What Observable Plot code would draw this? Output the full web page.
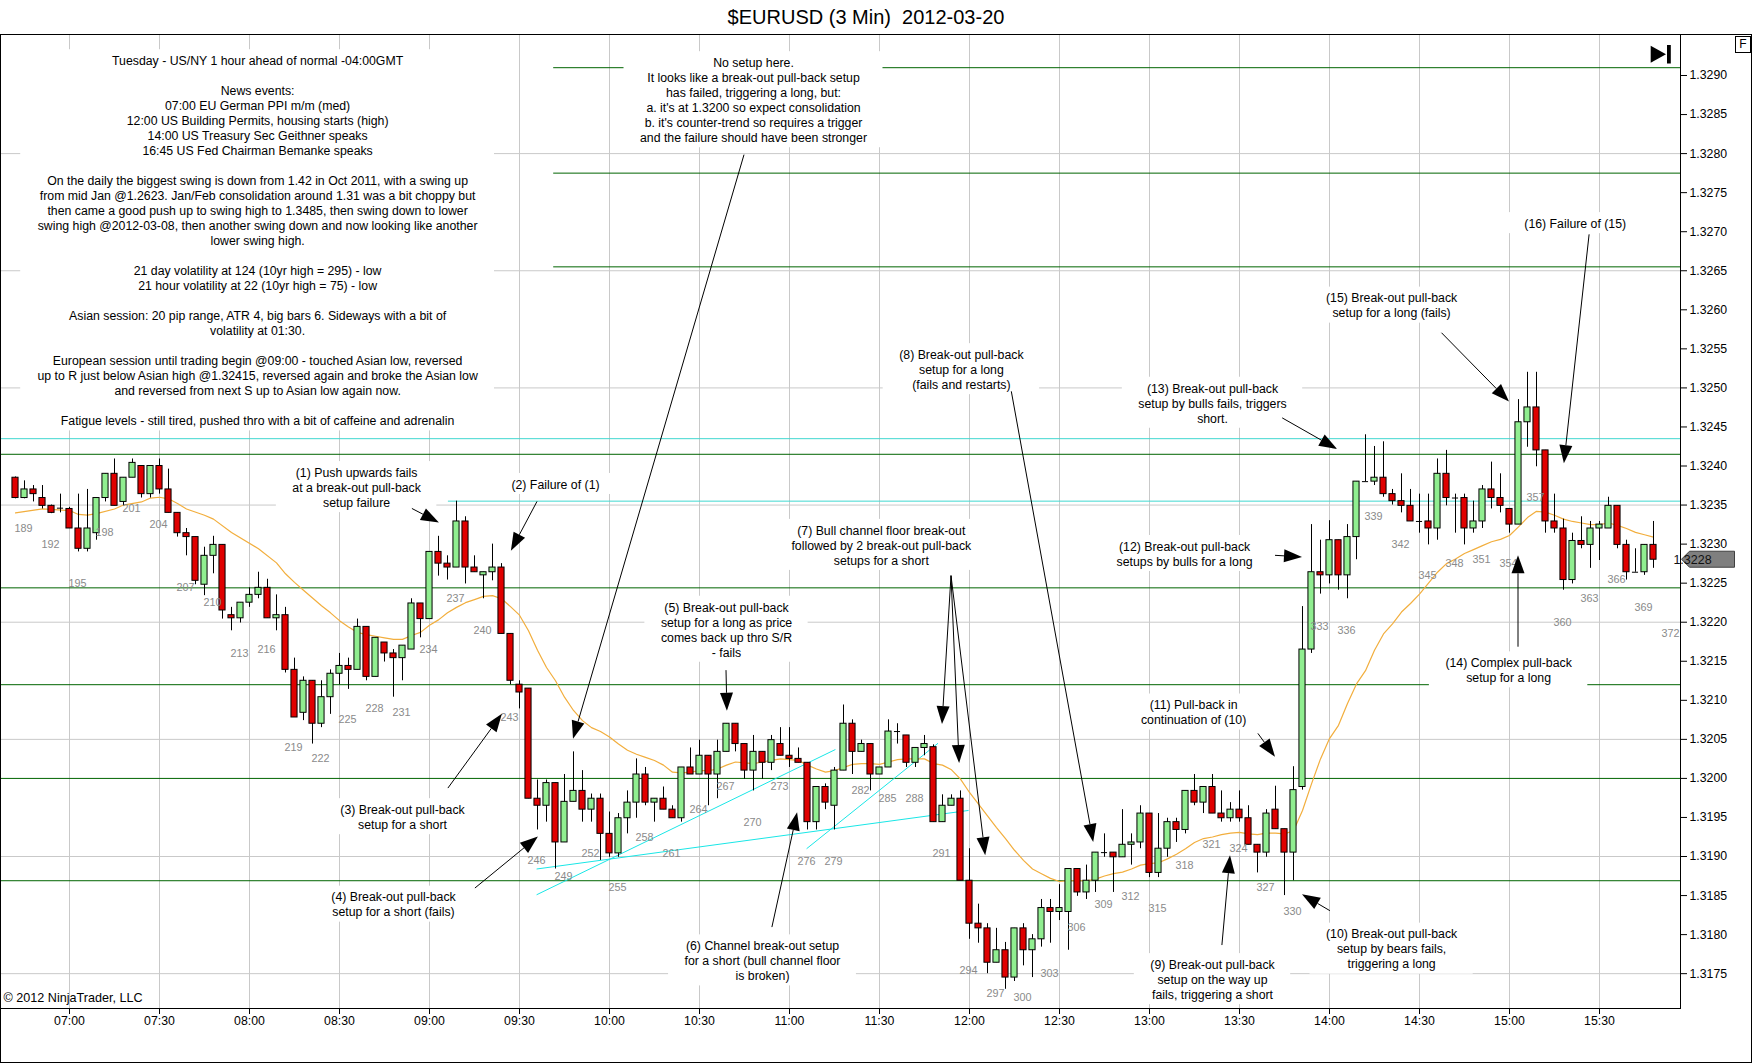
<!DOCTYPE html>
<html>
<head>
<meta charset="utf-8">
<script src="https://cdn.jsdelivr.net/npm/d3@7"></script>
<script src="https://cdn.jsdelivr.net/npm/@observablehq/plot@0.6"></script>
<style>
  body { margin: 0; background: #fff; font-family: "Liberation Sans", Arial, sans-serif; }
  #wrap { position: relative; width: 1752px; height: 1064px; overflow: hidden; background: #fff; }
  #title { position: absolute; left: 0; top: 0; width: 1732px; height: 34px; line-height: 34px; text-align: center; font-size: 20px; white-space: pre; color: #000; }
  #chart { position: absolute; left: 0; top: 34px; }
  #border { position: absolute; left: 0; top: 34px; width: 1750px; height: 1027px; border: 1px solid #000; pointer-events: none; }
  #endbtn { position: absolute; left: 1650px; top: 45px; }
  #fbox { position: absolute; left: 1735px; top: 36px; width: 14px; height: 15px; border: 1px solid #000; font-size: 12px; line-height: 15px; text-align: center; background: #fff; }
</style>
</head>
<body>
<div id="wrap">
  <div id="title">$EURUSD (3 Min)  2012-03-20</div>
  <div id="chart"></div>
  <div id="border"></div>
  <svg id="endbtn" width="22" height="19"><polygon points="0.7,0.7 16,9.2 0.7,17.8" fill="#000"/><rect x="17" y="0" width="3.8" height="18.5" fill="#000"/></svg>
  <div id="fbox">F</div>
</div>
<script>
// ---------------- data ----------------
const firstBar = 189;
const open = [
1.32385,1.32359,1.32370,1.32359,1.32349,1.32346,1.32345,1.32320,1.32294,1.32314,
1.32359,1.32390,1.32354,1.32385,1.32400,1.32364,1.32400,1.32370,1.32340,1.32314,
1.32309,1.32248,1.32285,1.32299,1.32209,1.32205,1.32225,1.32235,1.32244,1.32205,
1.32209,1.32139,1.32084,1.32125,1.32070,1.32104,1.32134,1.32144,1.32139,1.32194,
1.32130,1.32174,1.32160,1.32154,1.32165,1.32224,1.32204,1.32290,1.32275,1.32270,
1.32329,1.32270,1.32260,1.32264,1.32270,1.32185,1.32120,1.32115,1.31974,1.31965,
1.31994,1.31918,1.31970,1.31984,1.31960,1.31974,1.31929,1.31904,1.31949,1.31969,
1.32005,1.31969,1.31974,1.31960,1.31949,1.32014,1.32005,1.32029,1.32005,1.32034,
1.32070,1.32044,1.32010,1.32034,1.32020,1.32044,1.32029,1.32025,1.32020,1.31944,
1.31989,1.31965,1.32010,1.32070,1.32034,1.32044,1.32005,1.32014,1.32060,1.32055,
1.32020,1.32039,1.32040,1.31944,1.31965,1.31974,1.31869,1.31814,1.31808,1.31764,
1.31780,1.31745,1.31808,1.31780,1.31794,1.31834,1.31829,1.31829,1.31884,1.31854,
1.31869,1.31905,1.31905,1.31899,1.31915,1.31918,1.31955,1.31879,1.31910,1.31944,
1.31934,1.31984,1.31969,1.31989,1.31955,1.31949,1.31960,1.31949,1.31915,1.31905,
1.31960,1.31935,1.31905,1.31989,1.32165,1.32264,1.32260,1.32305,1.32260,1.32309,
1.32380,1.32380,1.32385,1.32364,1.32355,1.32349,1.32329,1.32329,1.32320,1.32390,
1.32359,1.32359,1.32320,1.32329,1.32370,1.32359,1.32345,1.32325,1.32456,1.32475,
1.32420,1.32329,1.32320,1.32254,1.32304,1.32299,1.32320,1.32320,1.32349,1.32299,
1.32264,1.32264,1.32299
];
const high = [
1.32386,1.32381,1.32375,1.32375,1.32350,1.32364,1.32347,1.32364,1.32370,1.32359,
1.32390,1.32409,1.32385,1.32409,1.32400,1.32400,1.32409,1.32396,1.32340,1.32320,
1.32309,1.32296,1.32310,1.32299,1.32219,1.32225,1.32244,1.32264,1.32255,1.32235,
1.32219,1.32154,1.32130,1.32125,1.32125,1.32139,1.32160,1.32154,1.32204,1.32194,
1.32180,1.32174,1.32165,1.32170,1.32230,1.32224,1.32290,1.32310,1.32285,1.32355,
1.32335,1.32285,1.32264,1.32300,1.32275,1.32185,1.32125,1.32115,1.31998,1.31998,
1.31994,1.32005,1.32034,1.32010,1.31980,1.31980,1.31957,1.31955,1.31984,1.32025,
1.32014,1.31974,1.31989,1.31965,1.32014,1.32039,1.32049,1.32029,1.32049,1.32070,
1.32070,1.32044,1.32055,1.32034,1.32055,1.32065,1.32065,1.32039,1.32020,1.31989,
1.31993,1.32014,1.32094,1.32075,1.32049,1.32044,1.32014,1.32075,1.32070,1.32055,
1.32039,1.32055,1.32043,1.31979,1.31979,1.31984,1.31910,1.31839,1.31814,1.31808,
1.31790,1.31808,1.31814,1.31800,1.31845,1.31845,1.31864,1.31884,1.31884,1.31889,
1.31905,1.31929,1.31905,1.31960,1.31929,1.31965,1.31955,1.31955,1.31949,1.31949,
1.31984,1.32005,1.31989,1.32005,1.31984,1.31969,1.31984,1.31965,1.31915,1.31960,
1.31990,1.31935,1.32015,1.32220,1.32325,1.32305,1.32330,1.32305,1.32325,1.32380,
1.32440,1.32425,1.32431,1.32370,1.32390,1.32370,1.32364,1.32364,1.32409,1.32420,
1.32364,1.32364,1.32355,1.32375,1.32405,1.32390,1.32345,1.32485,1.32520,1.32520,
1.32420,1.32364,1.32332,1.32314,1.32335,1.32329,1.32329,1.32360,1.32349,1.32305,
1.32294,1.32299,1.32329
];
const low = [
1.32358,1.32358,1.32354,1.32345,1.32339,1.32340,1.32320,1.32290,1.32290,1.32305,
1.32354,1.32349,1.32349,1.32385,1.32359,1.32359,1.32364,1.32340,1.32309,1.32285,
1.32248,1.32234,1.32262,1.32204,1.32189,1.32199,1.32219,1.32230,1.32205,1.32189,
1.32135,1.32078,1.32074,1.32044,1.32065,1.32082,1.32120,1.32114,1.32139,1.32125,
1.32130,1.32149,1.32104,1.32125,1.32165,1.32180,1.32204,1.32259,1.32254,1.32270,
1.32249,1.32264,1.32230,1.32253,1.32185,1.32120,1.32089,1.31974,1.31934,1.31944,
1.31884,1.31918,1.31970,1.31944,1.31944,1.31895,1.31899,1.31899,1.31929,1.31949,
1.31965,1.31944,1.31960,1.31949,1.31944,1.32005,1.32005,1.31965,1.31974,1.32034,
1.32034,1.31999,1.31984,1.31999,1.32010,1.32029,1.32014,1.32020,1.31934,1.31934,
1.31960,1.31934,1.32010,1.32005,1.32034,1.31984,1.32005,1.32014,1.32044,1.32014,
1.32014,1.32029,1.31944,1.31944,1.31965,1.31869,1.31794,1.31789,1.31750,1.31764,
1.31730,1.31740,1.31760,1.31745,1.31784,1.31789,1.31818,1.31780,1.31849,1.31845,
1.31854,1.31899,1.31854,1.31899,1.31889,1.31910,1.31873,1.31873,1.31899,1.31918,
1.31929,1.31965,1.31955,1.31955,1.31944,1.31944,1.31944,1.31915,1.31879,1.31899,
1.31935,1.31850,1.31869,1.31985,1.32160,1.32236,1.32249,1.32241,1.32230,1.32280,
1.32380,1.32375,1.32360,1.32350,1.32340,1.32329,1.32314,1.32299,1.32305,1.32349,
1.32314,1.32299,1.32314,1.32320,1.32345,1.32340,1.32314,1.32325,1.32424,1.32399,
1.32314,1.32314,1.32241,1.32249,1.32294,1.32269,1.32279,1.32320,1.32294,1.32254,
1.32264,1.32260,1.32269
];
const close = [
1.32359,1.32370,1.32364,1.32349,1.32340,1.32346,1.32320,1.32294,1.32320,1.32359,
1.32390,1.32349,1.32385,1.32404,1.32364,1.32400,1.32370,1.32340,1.32314,1.32309,
1.32253,1.32285,1.32299,1.32215,1.32205,1.32225,1.32235,1.32244,1.32205,1.32209,
1.32139,1.32078,1.32125,1.32070,1.32104,1.32134,1.32144,1.32139,1.32194,1.32130,
1.32180,1.32160,1.32154,1.32170,1.32224,1.32204,1.32290,1.32275,1.32270,1.32329,
1.32270,1.32264,1.32264,1.32270,1.32185,1.32125,1.32110,1.31974,1.31965,1.31994,
1.31918,1.31970,1.31984,1.31960,1.31974,1.31929,1.31904,1.31949,1.31969,1.32005,
1.31969,1.31974,1.31960,1.31949,1.32014,1.32005,1.32029,1.32005,1.32034,1.32070,
1.32044,1.32010,1.32034,1.32020,1.32049,1.32029,1.32025,1.32020,1.31944,1.31989,
1.31969,1.32010,1.32070,1.32034,1.32044,1.32005,1.32014,1.32060,1.32060,1.32020,
1.32039,1.32044,1.31944,1.31965,1.31974,1.31869,1.31814,1.31808,1.31764,1.31780,
1.31745,1.31808,1.31780,1.31794,1.31834,1.31829,1.31834,1.31884,1.31854,1.31869,
1.31905,1.31905,1.31899,1.31915,1.31918,1.31955,1.31879,1.31910,1.31944,1.31934,
1.31984,1.31969,1.31989,1.31955,1.31949,1.31960,1.31949,1.31915,1.31905,1.31955,
1.31935,1.31905,1.31985,1.32165,1.32264,1.32260,1.32305,1.32260,1.32309,1.32380,
1.32380,1.32385,1.32364,1.32355,1.32349,1.32329,1.32329,1.32320,1.32390,1.32359,
1.32359,1.32320,1.32329,1.32370,1.32359,1.32349,1.32325,1.32456,1.32475,1.32420,
1.32329,1.32320,1.32254,1.32304,1.32299,1.32320,1.32325,1.32349,1.32299,1.32264,
1.32264,1.32299,1.32280
];

// orange moving-average line at these bars
const emaBars = [189,192,195,196,197,198,200,201,203,204,205,206,207,208,210,211,213,216,218,
219,220,221,222,223,224,225,226,227,228,229,230,231,232,233,234,235,236,237,238,239,240,241,242,243,244,245,246,247,248,249,250,251,252,253,254,255,256,257,258,259,260,261,262,263,264,265,266,267,268,269,270,271,272,273,274,275,276,277,278,279,280,281,282,283,284,285,286,287,288,289,290,291,292,293,294,295,296,297,298,299,300,301,302,303,304,305,306,307,308,309,310,311,312,313,314,315,316,317,318,319,320,321,322,323,324,325,326,327,328,329,330,331,332,333,334,335,336,337,338,339,340,341,342,343,344,345,346,347,348,349,350,351,352,353,354,355,356,357,358,359,360,361,362,363,364,365,366,367,368,369,370,371];
const emaValues = [1.32340,1.32345,1.32343,1.32338,1.32337,1.32339,1.32345,1.32350,1.32354,1.32359,1.32360,1.32358,1.32352,1.32345,1.32337,1.32332,1.32315,1.32294,1.32276,
1.32262,1.32251,1.32241,1.32231,1.32221,1.32212,1.32202,1.32194,1.32187,1.32184,1.32182,1.32180,1.32178,1.32178,1.32183,1.32187,1.32196,1.32203,1.32212,1.32219,1.32225,1.32229,1.32233,1.32234,1.32230,1.32220,1.32209,1.32189,1.32164,1.32142,1.32125,1.32104,1.32087,1.32074,1.32065,1.32060,1.32053,1.32044,1.32036,1.32031,1.32027,1.32023,1.32017,1.32008,1.32007,1.32008,1.32010,1.32010,1.32012,1.32017,1.32021,1.32020,1.32019,1.32021,1.32023,1.32025,1.32024,1.32023,1.32017,1.32012,1.32008,1.32010,1.32014,1.32018,1.32019,1.32019,1.32018,1.32021,1.32024,1.32025,1.32025,1.32025,1.32019,1.32017,1.32011,1.31999,1.31982,1.31967,1.31952,1.31937,1.31923,1.31908,1.31895,1.31884,1.31878,1.31872,1.31868,1.31869,1.31869,1.31869,1.31871,1.31875,1.31878,1.31880,1.31884,1.31889,1.31891,1.31892,1.31897,1.31903,1.31910,1.31918,1.31923,1.31925,1.31928,1.31930,1.31931,1.31929,1.31928,1.31930,1.31930,1.31929,1.31933,1.31959,1.31993,1.32025,1.32051,1.32068,1.32096,1.32121,1.32138,1.32164,1.32185,1.32198,1.32213,1.32224,1.32236,1.32250,1.32264,1.32275,1.32281,1.32288,1.32293,1.32298,1.32303,1.32306,1.32311,1.32322,1.32334,1.32342,1.32341,1.32337,1.32332,1.32329,1.32327,1.32325,1.32325,1.32327,1.32324,1.32320,1.32315,1.32312,1.32309];

// bar-number labels: [bar, price where the label sits]
const barLabels = [[189,1.32320],[192,1.32299],[195,1.32249],[198,1.32315],[201,1.32345],[204,1.32325],[207,1.32244],[210,1.32225],[213,1.32160],[216,1.32165],
[219,1.32039],[222,1.32025],[225,1.32075],[228,1.32089],[231,1.32084],[234,1.32165],[237,1.32230],[240,1.32189],[243,1.32078],[246,1.31895],[249,1.31874],[252,1.31904],
[255,1.31860],[258,1.31924],[261,1.31904],[264,1.31960],[267,1.31989],[270,1.31944],[273,1.31989],[276,1.31894],[279,1.31894],[282,1.31985],[285,1.31974],[288,1.31974],
[291,1.31904],[294,1.31754],[297,1.31724],[300,1.31719],[303,1.31750],[306,1.31809],[309,1.31839],[312,1.31849],[315,1.31834],[318,1.31889],[321,1.31915],[324,1.31910],
[327,1.31860],[330,1.31830],[333,1.32195],[336,1.32189],[339,1.32335],[342,1.32300],[345,1.32260],[348,1.32275],[351,1.32280],[354,1.32275],[357,1.32359],
[360,1.32199],[363,1.32230],[366,1.32255],[369,1.32219],[372,1.32185]];

// time axis
const timeTicks = [195,205,215,225,235,245,255,265,275,285,295,305,315,325,335,345,355,365];
const timeLabels = ["07:00","07:30","08:00","08:30","09:00","09:30","10:00","10:30","11:00","11:30","12:00","12:30","13:00","13:30","14:00","14:30","15:00","15:30"];
// price axis
const priceTicks = [1.3175,1.3180,1.3185,1.3190,1.3195,1.3200,1.3205,1.3210,1.3215,1.3220,1.3225,1.3230,1.3235,1.3240,1.3245,1.3250,1.3255,1.3260,1.3265,1.3270,1.3275,1.3280,1.3285,1.3290];
const gridPrices = [1.3175,1.3190,1.3205,1.3220,1.3235,1.3250,1.3265,1.3280];

// drawn S/R levels
const greenLevels = [1.32415,1.32244,1.32120,1.32000,1.31869];
const upperGreenLevels = [1.32910,1.32775,1.32655];
const upperGreenStart = 248.8;
const cyanFull = [1.32435];
const cyanPartial = [1.32355];
const cyanPartialStart = 237.1;
// channel lines [bar1, price1, bar2, price2]
const channels = [[246.9,1.31851,280.1,1.32037],[246.9,1.31884,294.9,1.31959],[276.9,1.31910,291.5,1.32045]];

// annotations
const notes = [
  {bar:215.9, price:1.32689, text:"Tuesday - US/NY 1 hour ahead of normal -04:00GMT\n\nNews events:\n07:00 EU German PPI m/m (med)\n12:00 US Building Permits, housing starts (high)\n14:00 US Treasury Sec Geithner speaks\n16:45 US Fed Chairman Bemanke speaks\n\nOn the daily the biggest swing is down from 1.42 in Oct 2011, with a swing up\nfrom mid Jan @1.2623. Jan/Feb consolidation around 1.31 was a bit choppy but\nthen came a good push up to swing high to 1.3485, then swing down to lower\nswing high @2012-03-08, then another swing down and now looking like another\nlower swing high.\n\n21 day volatility at 124 (10yr high = 295) - low\n21 hour volatility at 22 (10yr high = 75) - low\n\nAsian session: 20 pip range, ATR 4, big bars 6. Sideways with a bit of\nvolatility at 01:30.\n\nEuropean session until trading begin @09:00 - touched Asian low, reversed\nup to R just below Asian high @1.32415, reversed again and broke the Asian low\nand reversed from next S up to Asian low again now.\n\nFatigue levels - still tired, pushed thro with a bit of caffeine and adrenalin"},
  {bar:271.0, price:1.32869, text:"No setup here.\nIt looks like a break-out pull-back setup\nhas failed, triggering a long, but:\na. it's at 1.3200 so expect consolidation\nb. it's counter-trend so requires a trigger\nand the failure should have been stronger"},
  {bar:226.9, price:1.32373, text:"(1) Push upwards fails\nat a break-out pull-back\nsetup failure"},
  {bar:249.0, price:1.32377, text:"(2) Failure of (1)"},
  {bar:232.0, price:1.31951, text:"(3) Break-out pull-back\nsetup for a short"},
  {bar:231.0, price:1.31839, text:"(4) Break-out pull-back\nsetup for a short (fails)"},
  {bar:268.0, price:1.32191, text:"(5) Break-out pull-back\nsetup for a long as price\ncomes back up thro S/R\n- fails"},
  {bar:272.0, price:1.31767, text:"(6) Channel break-out setup\nfor a short (bull channel floor\nis broken)"},
  {bar:285.2, price:1.32299, text:"(7) Bull channel floor break-out\nfollowed by 2 break-out pull-back\nsetups for a short"},
  {bar:294.1, price:1.32524, text:"(8) Break-out pull-back\nsetup for a long\n(fails and restarts)"},
  {bar:322.0, price:1.31743, text:"(9) Break-out pull-back\nsetup on the way up\nfails, triggering a short"},
  {bar:341.9, price:1.31782, text:"(10) Break-out pull-back\nsetup by bears fails,\ntriggering a long"},
  {bar:319.9, price:1.32085, text:"(11) Pull-back in\ncontinuation of (10)"},
  {bar:318.9, price:1.32288, text:"(12) Break-out pull-back\nsetups by bulls for a long"},
  {bar:322.0, price:1.32481, text:"(13) Break-out pull-back\nsetup by bulls fails, triggers\nshort."},
  {bar:354.9, price:1.32139, text:"(14) Complex pull-back\nsetup for a long"},
  {bar:341.9, price:1.32606, text:"(15) Break-out pull-back\nsetup for a long (fails)"},
  {bar:362.3, price:1.32711, text:"(16) Failure of (15)"}
];
// arrows: [barFrom, priceFrom, barTo, priceTo]
const arrows = [
  [233.1,1.32345,236.1,1.32327],
  [247.0,1.32354,244.1,1.32291],
  [270.0,1.32798,251.0,1.32050],
  [237.1,1.31987,243.1,1.32082],
  [240.1,1.31859,247.1,1.31925],
  [268.0,1.32138,268.1,1.32086],
  [273.1,1.31809,275.9,1.31956],
  [293.0,1.32259,292.0,1.32069],
  [293.0,1.32259,293.9,1.32019],
  [293.0,1.32259,296.8,1.31901],
  [299.7,1.32495,308.8,1.31918],
  [323.1,1.31786,324.0,1.31901],
  [335.1,1.31830,332.0,1.31851],
  [327.1,1.32057,329.0,1.32027],
  [329.0,1.32285,332.0,1.32283],
  [329.8,1.32461,335.9,1.32421],
  [356.0,1.32168,356.0,1.32285],
  [347.5,1.32570,355.0,1.32482],
  [363.9,1.32696,361.1,1.32403]
];

// ---------------- build ----------------
const candles = open.map((o, i) => ({bar: firstBar + i, open: o, high: high[i], low: low[i], close: close[i]}));
const ups = candles.filter(d => d.close > d.open);
const downs = candles.filter(d => d.close < d.open);
const dojis = candles.filter(d => d.close === d.open);
const ema = emaBars.map((b, i) => ({bar: b, value: emaValues[i]}));
const lastPrice = close[close.length - 1];
const half = 0.34;
const ns = "http://www.w3.org/2000/svg";
const noteFont = 12.3, noteLine = 1.22;

function arrowMark(list) {
  return (index, scales) => {
    const g = document.createElementNS(ns, "g");
    g.setAttribute("aria-label", "arrows");
    for (const [b1, p1, b2, p2] of list) {
      const x1 = scales.x(b1), y1 = scales.y(p1), x2 = scales.x(b2), y2 = scales.y(p2);
      const ang = Math.atan2(y2 - y1, x2 - x1);
      const L = 18, W = 6.5;
      const bx = x2 - L * Math.cos(ang), by = y2 - L * Math.sin(ang);
      const line = document.createElementNS(ns, "line");
      line.setAttribute("x1", x1); line.setAttribute("y1", y1);
      line.setAttribute("x2", bx); line.setAttribute("y2", by);
      line.setAttribute("stroke", "#000"); line.setAttribute("stroke-width", "1");
      g.appendChild(line);
      const head = document.createElementNS(ns, "path");
      head.setAttribute("d", `M${x2},${y2}L${bx - W * Math.sin(ang)},${by + W * Math.cos(ang)}L${bx + W * Math.sin(ang)},${by - W * Math.cos(ang)}Z`);
      head.setAttribute("fill", "#000");
      g.appendChild(head);
    }
    return g;
  };
}

// white label boxes behind the annotation texts (sized from the text itself)
function noteBoxes(list) {
  const ctx = document.createElement("canvas").getContext("2d");
  ctx.font = `${noteFont}px "Liberation Sans", Arial, sans-serif`;
  const lh = noteFont * noteLine;
  return (index, scales) => {
    const g = document.createElementNS(ns, "g");
    g.setAttribute("aria-label", "note boxes");
    for (const n of list) {
      const lines = n.text.split("\n");
      const w = Math.max(...lines.map(l => ctx.measureText(l).width));
      const h = lines.length * lh;
      const cx = scales.x(n.bar), cy = scales.y(n.price);
      const r = document.createElementNS(ns, "rect");
      r.setAttribute("x", cx - w / 2 - 16);
      r.setAttribute("y", cy - h / 2 - 3);
      r.setAttribute("width", w + 32);
      r.setAttribute("height", h + 6);
      r.setAttribute("fill", "#fff");
      g.appendChild(r);
    }
    return g;
  };
}

function priceMarker(price) {
  return (index, scales, values, dimensions) => {
    const g = document.createElementNS(ns, "g");
    const y = scales.y(price);
    const x = dimensions.width - dimensions.marginRight + 1.5;
    const p = document.createElementNS(ns, "path");
    p.setAttribute("d", `M${x},${y}L${x + 8},${y - 8}L${x + 53},${y - 8}L${x + 53},${y + 8}L${x + 8},${y + 8}Z`);
    p.setAttribute("fill", "#7f7f7f");
    p.setAttribute("stroke", "#404040");
    g.appendChild(p);
    const t = document.createElementNS(ns, "text");
    t.setAttribute("x", x + 11); t.setAttribute("y", y + 4.5);
    t.setAttribute("font-size", "12.5"); t.setAttribute("fill", "#111");
    t.textContent = price.toFixed(4);
    g.appendChild(t);
    return g;
  };
}

const chart = Plot.plot({
  width: 1752,
  height: 1030,
  marginTop: 0,
  marginLeft: 0,
  marginRight: 72,
  marginBottom: 56,
  style: {fontFamily: "'Liberation Sans', Arial, sans-serif", fontSize: "12px", background: "transparent", overflow: "visible"},
  x: {type: "linear", domain: [187.3333, 374], axis: null},
  y: {type: "linear", domain: [1.317054, 1.329525], axis: null},
  marks: [
    Plot.ruleX(timeTicks, {stroke: "#c9c9c9"}),
    Plot.ruleY(gridPrices, {stroke: "#c9c9c9"}),
    Plot.ruleY(greenLevels, {stroke: "#006400"}),
    Plot.ruleY(upperGreenLevels, {y: d => d, x1: upperGreenStart, x2: 374, stroke: "#006400"}),
    Plot.ruleY(cyanFull, {stroke: "#40d8d0"}),
    Plot.ruleY(cyanPartial, {y: d => d, x1: cyanPartialStart, x2: 374, stroke: "#40d8d0"}),
    Plot.link(channels, {x1: d => d[0], y1: d => d[1], x2: d => d[2], y2: d => d[3], stroke: "#19e6e6"}),
    Plot.line(ema, {x: "bar", y: "value", stroke: "#f2ae3d", strokeWidth: 1.2}),
    Plot.ruleX(candles, {x: "bar", y1: "low", y2: "high", stroke: "#000"}),
    Plot.rect(ups, {x1: d => d.bar - half, x2: d => d.bar + half, y1: "open", y2: "close", fill: "#90ee90", stroke: "#000"}),
    Plot.rect(downs, {x1: d => d.bar - half, x2: d => d.bar + half, y1: "open", y2: "close", fill: "#e00000", stroke: "#000"}),
    Plot.ruleY(dojis, {y: "close", x1: d => d.bar - half, x2: d => d.bar + half, stroke: "#000"}),
    Plot.text(barLabels, {x: d => d[0], y: d => d[1], text: d => String(d[0]), textAnchor: "start", dx: -1, fill: "#8a8a8a", fontSize: 10.8}),
    noteBoxes(notes),
    Plot.text(notes, {x: "bar", y: "price", text: "text", textAnchor: "middle", lineAnchor: "middle", lineHeight: noteLine, fontSize: noteFont, fill: "#000"}),
    arrowMark(arrows),
    Plot.frame({stroke: "#000"}),
    Plot.axisX({ticks: timeTicks, tickFormat: d => timeLabels[timeTicks.indexOf(d)], tickSize: 6, tickPadding: 2, fontSize: 12.3, label: null}),
    Plot.axisY({anchor: "right", ticks: priceTicks, tickFormat: d => d.toFixed(4), tickSize: 6, tickPadding: 3, fontSize: 12.3, label: null}),
    priceMarker(lastPrice),
    Plot.text(["© 2012 NinjaTrader, LLC"], {frameAnchor: "bottom-left", textAnchor: "start", dx: 3, dy: -7, fontSize: 12.6, fill: "#000"})
  ]
});

document.getElementById("chart").appendChild(chart);
</script>
</body>
</html>
